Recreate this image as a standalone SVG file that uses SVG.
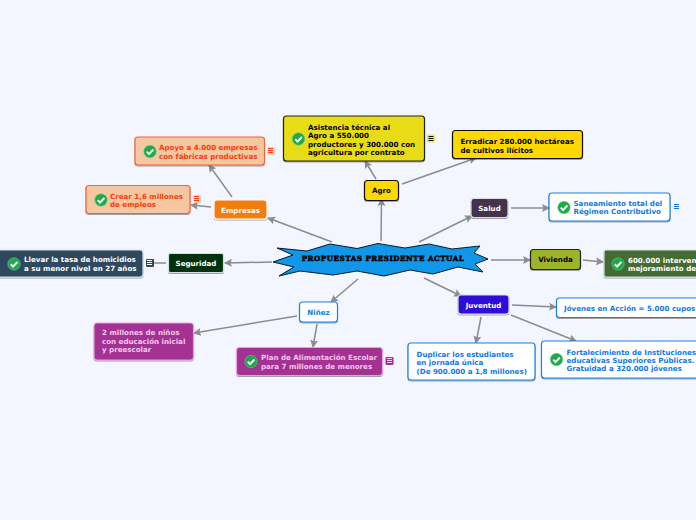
<svg xmlns="http://www.w3.org/2000/svg" width="696" height="520" viewBox="0 0 696 520">
<defs>
<style>
text{font-family:"DejaVu Sans",Verdana,sans-serif;font-weight:700;font-size:7.1px}
.c line{stroke:#8c8c8e;stroke-width:1.5;fill:none;marker-end:url(#a)}
.n{stroke-width:1.2;filter:url(#s)}
.b{fill:#0f7ae0}
</style>
<filter id="s" x="-10%" y="-10%" width="120%" height="130%"><feDropShadow dx="0" dy="1" stdDeviation="0.7" flood-color="#000" flood-opacity="0.35"/></filter>
<marker id="a" markerWidth="9" markerHeight="9" refX="7" refY="4" orient="auto" markerUnits="userSpaceOnUse"><path d="M0 0L8 4L0 8L1.500 4Z" fill="#8c8c8e"/></marker>
<g id="chk"><circle r="6.200" fill="#1fa94a"/><circle r="6.200" fill="none" stroke="#5fd07f" stroke-width=".6"/><path d="M-3.200 0.200L-1 2.600L3.400 -2" fill="none" stroke="#fff" stroke-width="1.900"/></g>
<g id="nt"><path d="M-2.500 -2H2.500M-2.500 0H2.500M-2.500 2H2.500" stroke-width="1" fill="none"/></g>
</defs>
<rect width="696" height="520" fill="#f3f6ff"/>
<g class="c">
<line x1="332" y1="242" x2="268" y2="218"/>
<line x1="381" y1="241" x2="381.500" y2="199"/>
<line x1="419" y1="242" x2="472" y2="216"/>
<line x1="491" y1="260" x2="530" y2="260"/>
<line x1="424" y1="278" x2="461" y2="296"/>
<line x1="358" y1="279" x2="331" y2="302"/>
<line x1="272" y1="262" x2="225" y2="263"/>
<line x1="376" y1="179" x2="365" y2="161"/>
<line x1="402" y1="184" x2="476" y2="158"/>
<line x1="232" y1="197" x2="209" y2="165"/>
<line x1="211" y1="207" x2="191" y2="205"/>
<line x1="166" y1="263" x2="147" y2="263"/>
<line x1="511" y1="208" x2="549" y2="208"/>
<line x1="583" y1="260" x2="603" y2="262"/>
<line x1="512" y1="305" x2="556" y2="307"/>
<line x1="511" y1="315" x2="576" y2="341"/>
<line x1="481" y1="317" x2="476" y2="343"/>
<line x1="297" y1="316" x2="194" y2="333"/>
<line x1="317" y1="324" x2="313" y2="347"/>
</g>
<g id="root">
<polygon points="277,248 307,251 330,244 357,248.500 378,243.500 405,248 429,244 452,249 480,246 474,253 488,259 475,264 483,272 458,267 433,274 410,270 384,276 357,271 333,275 300,271 279,276 294,267 273,262 293,255" fill="#1197e8" stroke="#06182b" stroke-width="1"/>
<text x="383" y="261" text-anchor="middle" style="font-family:'DejaVu Serif',serif;font-size:7.2px;font-weight:700;letter-spacing:.5px" fill="#000" stroke="#000" stroke-width=".5">PROPUESTAS PRESIDENTE ACTUAL</text>
</g>
<g id="agro"><rect class="n" x="364.500" y="180.500" width="34" height="20" rx="3" fill="#ffd800" stroke="#111"/><text x="381.500" y="193" text-anchor="middle">Agro</text></g>
<g id="asistencia"><rect class="n" x="283.500" y="116" width="141" height="45" rx="3" fill="#e8dc18" stroke="#222"/><use href="#chk" x="298.500" y="139"/><text x="308" y="129.500">Asistencia técnica al</text><text x="308" y="137.800">Agro a 550.000</text><text x="308" y="146.500">productores y 300.000 con</text><text x="308" y="154.500">agricultura por contrato</text><rect x="427" y="134.500" width="8" height="8" rx="1" fill="#f0e84a"/><use href="#nt" x="431" y="138.500" stroke="#111"/></g>
<g id="erradicar"><rect class="n" x="452.500" y="130.500" width="130" height="28" rx="3" fill="#ffd800" stroke="#111"/><text x="460.500" y="143.500">Erradicar 280.000 hectáreas</text><text x="460.500" y="152.500">de cultivos ilícitos</text></g>
<g id="empresas"><rect class="n" x="214" y="200" width="53" height="19" rx="3" fill="#f07d0a" stroke="#fff"/><text x="240.500" y="212.500" text-anchor="middle" fill="#fff">Empresas</text></g>
<g id="apoyo"><rect class="n" x="135" y="137" width="129.500" height="28" rx="3" fill="#f5c7a0" stroke="#f4633a"/><use href="#chk" x="150" y="151.500"/><text x="159" y="150" fill="#f53c0c">Apoyo a 4.000 empresas</text><text x="159" y="158.500" fill="#f53c0c">con fábricas productivas</text><rect x="267" y="147" width="8" height="8" fill="#f9d3ba"/><use href="#nt" x="270.500" y="150.500" stroke="#f53c0c"/></g>
<g id="crear"><rect class="n" x="86" y="185.500" width="104" height="28" rx="3" fill="#f5c7a0" stroke="#f4633a"/><use href="#chk" x="101" y="200"/><text x="110" y="198.500" fill="#f53c0c">Crear 1,6 millones</text><text x="110" y="206.800" fill="#f53c0c">de empleos</text><rect x="193" y="195" width="8" height="8" fill="#f9d3ba"/><use href="#nt" x="196.500" y="198.500" stroke="#f53c0c"/></g>
<g id="seguridad"><rect class="n" x="168.500" y="253.500" width="55" height="19" rx="2" fill="#04330f" stroke="#d8dde0"/><text x="196" y="265.500" text-anchor="middle" fill="#fff">Seguridad</text></g>
<g id="homicidios"><rect class="n" x="-4" y="250" width="147" height="27" rx="3" fill="#2e4a5e" stroke="#d8dde0"/><use href="#chk" x="14" y="264"/><text x="24" y="262" fill="#fff">Llevar la tasa de homicidios</text><text x="24" y="270.500" fill="#fff">a su menor nivel en 27 años</text><rect x="146" y="259" width="8" height="8" rx="1" fill="#2e4a5e"/><use href="#nt" x="149.500" y="262.500" stroke="#fff"/></g>
<g id="salud"><rect class="n" x="471" y="198.500" width="37" height="19" rx="3" fill="#44304d" stroke="#d8dde0"/><text x="489.500" y="211" text-anchor="middle" fill="#fff">Salud</text></g>
<g id="saneamiento"><rect class="n" x="549" y="193" width="121" height="28" rx="3" fill="#fff" stroke="#1a80e6"/><use href="#chk" x="564" y="207.500"/><text x="573.500" y="206" class="b">Saneamiento total del</text><text x="573.500" y="214" class="b">Régimen Contributivo</text><use href="#nt" x="676.500" y="206.500" stroke="#0f7ae0"/></g>
<g id="vivienda"><rect class="n" x="530.500" y="249.500" width="50" height="20" rx="3" fill="#9db42c" stroke="#222"/><text x="555.500" y="262" text-anchor="middle">Vivienda</text></g>
<g id="intervenciones"><rect class="n" x="604" y="250" width="110" height="27" rx="2" fill="#456b33" stroke="#d8dde0"/><use href="#chk" x="618" y="264"/><text x="628" y="262.500" fill="#fff">600.000 interven</text><text x="628" y="271" fill="#fff">mejoramiento de</text></g>
<g id="juventud"><rect class="n" x="458" y="295" width="51" height="19" rx="3" fill="#2f09d8" stroke="#d8dde0"/><text x="483.500" y="307.500" text-anchor="middle" fill="#fff">Juventud</text></g>
<g id="jovenes"><rect class="n" x="556.500" y="298" width="150" height="19.500" rx="3" fill="#fff" stroke="#1a80e6"/><text x="564" y="311" class="b">Jóvenes en Acción = 5.000 cupos</text></g>
<g id="fortalecimiento"><rect class="n" x="541.500" y="341" width="170" height="37" rx="3" fill="#fff" stroke="#1a80e6"/><use href="#chk" x="556.500" y="359.500"/><text x="566.500" y="354.500" class="b">Fortalecimiento de Instituciones</text><text x="566.500" y="362.500" class="b">educativas Superiores Públicas.</text><text x="566.500" y="371" class="b">Gratuidad a 320.000 jóvenes</text></g>
<g id="duplicar"><rect class="n" x="408" y="343" width="127" height="37" rx="3" fill="#fff" stroke="#1a80e6"/><text x="416.500" y="356.500" class="b">Duplicar los estudiantes</text><text x="416.500" y="364.500" class="b">en jornada única</text><text x="416.500" y="373.500" class="b">(De 900.000 a 1,8 millones)</text></g>
<g id="ninez"><rect class="n" x="299.500" y="302" width="38" height="20" rx="3" fill="#fff" stroke="#1a80e6"/><text x="318.500" y="315" text-anchor="middle" class="b">Niñez</text></g>
<g id="ninos"><rect class="n" x="94" y="323" width="99.500" height="37" rx="3" fill="#a33092" stroke="#e8a0dc"/><text x="102" y="335" fill="#f3c8ec">2 millones de niños</text><text x="102" y="344" fill="#f3c8ec">con educación inicial</text><text x="102" y="352" fill="#f3c8ec">y preescolar</text></g>
<g id="plan"><rect class="n" x="236.500" y="347.500" width="146" height="28" rx="3" fill="#a33092" stroke="#e8a0dc"/><use href="#chk" x="251" y="361.500"/><text x="261" y="360" fill="#f3c8ec">Plan de Alimentación Escolar</text><text x="261" y="368.500" fill="#f3c8ec">para 7 millones de menores</text><rect x="385.500" y="357" width="8" height="8" rx="1" fill="#a33092"/><use href="#nt" x="389.500" y="360.500" stroke="#f3c8ec"/></g>
</svg>
